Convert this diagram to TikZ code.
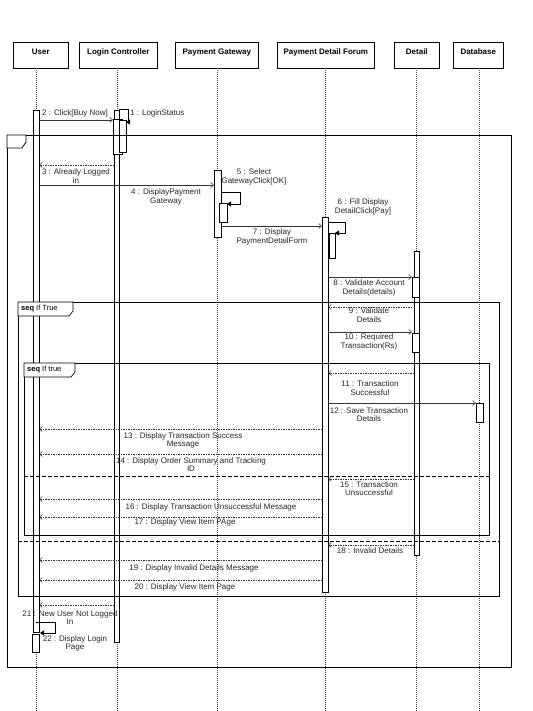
\documentclass[tikz,border=0pt]{standalone}
\usepackage{fontspec}
\setmainfont{Liberation Sans}
\usetikzlibrary{arrows.meta}
\begin{document}
\begin{tikzpicture}[x=1pt,y=-1pt,
  hdr/.style={draw=black, line width=0.6pt, fill=white, anchor=north west, minimum height=26pt,
     inner sep=0pt, text height=6pt, text depth=7pt, font=\bfseries\fontsize{8}{9}\selectfont},
  life/.style={draw=black!75, line width=0.5pt, dash pattern=on 1pt off 1pt},
  actbar/.style={draw=black, line width=0.6pt, fill=white},
  call/.style={draw=black!80, line width=0.5pt, -{Straight Barb[length=3pt,width=5pt]}},
  ret/.style={draw=black!80, line width=0.5pt, dash pattern=on 1.5pt off 1pt, -{Straight Barb[length=3pt,width=5pt]}},
  selfmsg/.style={draw=black, line width=0.5pt, -{Triangle[length=4pt,width=5pt]}},
  lbl/.style={font=\fontsize{8}{8.3}\selectfont, align=center, inner sep=0pt, text=black!85},
  frm/.style={draw=black, line width=0.7pt},
  tagbox/.style={draw=black, line width=0.7pt, fill=white},
  sepline/.style={draw=black, line width=0.6pt, dash pattern=on 4pt off 2pt},
  tagtext/.style={font=\fontsize{7.5}{8}\selectfont, anchor=west, inner sep=0pt}
]
\useasboundingbox[fill=white] (0,0) rectangle (532,711);

% ---- lifeline heads
\node[hdr, minimum width=55pt] (hUser) at (13,42) {User};
\node[hdr, minimum width=78pt] (hLC) at (79,42) {Login Controller};
\node[hdr, minimum width=83pt] (hPG) at (175,42) {Payment Gateway};
\node[hdr, minimum width=97pt] (hPDF) at (277,42) {Payment Detail Forum};
\node[hdr, minimum width=45pt] (hDet) at (394,42) {Detail};
\node[hdr, minimum width=50pt] (hDB) at (453,42) {Database};

% ---- lifelines
\coordinate (uT) at (36,68);  \coordinate (uB) at (36,711);
\coordinate (cT) at (117,68); \coordinate (cB) at (117,711);
\coordinate (gT) at (217,68); \coordinate (gB) at (217,711);
\coordinate (pT) at (325,68); \coordinate (pB) at (325,711);
\coordinate (dT) at (416,68); \coordinate (dB) at (416,711);
\coordinate (bT) at (479,68); \coordinate (bB) at (479,711);
\foreach \a/\b in {uT/uB,cT/cB,gT/gB,pT/pB,dT/dB,bT/bB} \draw[life] (\a) -- (\b);

% ---- activation bars
\draw[actbar] (33,110) rectangle (39,632);
\draw[actbar] (32,634) rectangle (39,652);
\draw[actbar] (114,110) rectangle (119,642);
\draw[actbar] (113,119) rectangle (122,154);
\draw[actbar] (119,120) rectangle (126,152);
\draw[actbar] (214,170) rectangle (221,237);
\draw[actbar] (219,203) rectangle (227,222);
\draw[actbar] (322,217) rectangle (328,592);
\draw[actbar] (329,233) rectangle (335,258);
\draw[actbar] (414,251) rectangle (419,555);
\draw[actbar] (412,277) rectangle (419,297);
\draw[actbar] (412,333) rectangle (419,352);
\draw[actbar] (476,403) rectangle (483,422);

% ---- combined fragments
\draw[frm] (7,135) rectangle (511,667);
\draw[tagbox] (7,135) -- (7,148) -- (22,148) -- (26,142) -- (26,135) -- cycle;
\draw[frm] (18,302) rectangle (499,596);
\draw[tagbox] (18,302) -- (18,316) -- (69,316) -- (73,311) -- (73,302) -- cycle;
\node[tagtext] (tag1) at (21,309) {\textbf{seq} If True};
\draw[sepline] (18,541) -- (499,541);
\draw[frm] (24,363) rectangle (489,535);
\draw[tagbox] (24,363) -- (24,377) -- (71,377) -- (75,372) -- (75,363) -- cycle;
\node[tagtext] (tag2) at (27,370) {\textbf{seq} If true};
\draw[sepline] (24,476) -- (489,476);

% ---- messages
% 1 self LoginStatus
\coordinate (m1a) at (119,109); \coordinate (m1b) at (128,109);
\coordinate (m1c) at (128,122); \coordinate (m1d) at (126,122);
\draw[selfmsg] (m1a) -- (m1b) -- (m1c) -- (m1d);
\node[lbl, anchor=west] (l1) at (130,113) {1 : LoginStatus};
% 2
\coordinate (m2a) at (39,120); \coordinate (m2b) at (113,120);
\draw[call] (m2a) -- (m2b);
\node[lbl] (l2) at (75,113) {2 : Click[Buy Now]};
% 3
\coordinate (m3a) at (114,165); \coordinate (m3b) at (39,165);
\draw[ret] (m3a) -- (m3b);
\node[lbl, anchor=north] (l3) at (76,169) {3 : Already Logged\\in};
% 4
\coordinate (m4a) at (39,185); \coordinate (m4b) at (214,185);
\draw[call] (m4a) -- (m4b);
\node[lbl, anchor=north] (l4) at (166,189) {4 : DisplayPayment\\Gateway};
% 5 self
\coordinate (m5a) at (221,192); \coordinate (m5b) at (240,192);
\coordinate (m5c) at (240,204); \coordinate (m5d) at (227,204);
\draw[selfmsg] (m5a) -- (m5b) -- (m5c) -- (m5d);
\node[lbl, anchor=north] (l5) at (254,169) {5 : Select\\GatewayClick[OK]};
% 7
\coordinate (m7a) at (221,226); \coordinate (m7b) at (322,226);
\draw[call] (m7a) -- (m7b);
\node[lbl, anchor=north] (l7) at (272,229) {7 : Display\\PaymentDetailForm};
% 6 self
\coordinate (m6a) at (328,222); \coordinate (m6b) at (345,222);
\coordinate (m6c) at (345,233); \coordinate (m6d) at (335,233);
\draw[selfmsg] (m6a) -- (m6b) -- (m6c) -- (m6d);
\node[lbl, anchor=north] (l6) at (363,199) {6 : Fill Display\\DetailClick[Pay]};
% 8
\coordinate (m8a) at (328,277); \coordinate (m8b) at (412,277);
\draw[call] (m8a) -- (m8b);
\node[lbl, anchor=north] (l8) at (369,280) {8 : Validate Account\\Details(details)};
% 9
\coordinate (m9a) at (412,307); \coordinate (m9b) at (328,307);
\draw[ret] (m9a) -- (m9b);
\node[lbl, anchor=north] (l9) at (369,308) {9 : Validate\\Details};
% 10
\coordinate (m10a) at (328,332); \coordinate (m10b) at (412,332);
\draw[call] (m10a) -- (m10b);
\node[lbl, anchor=north] (l10) at (369,334) {10 : Required\\Transaction(Rs)};
% 11
\coordinate (m11a) at (414,373); \coordinate (m11b) at (328,373);
\draw[ret] (m11a) -- (m11b);
\node[lbl, anchor=north] (l11) at (370,381) {11 : Transaction\\Successful};
% 12
\coordinate (m12a) at (328,403); \coordinate (m12b) at (476,403);
\draw[call] (m12a) -- (m12b);
\node[lbl, anchor=north] (l12) at (369,407) {12 : Save Transaction\\Details};
% 13
\coordinate (m13a) at (322,429); \coordinate (m13b) at (39,429);
\draw[ret] (m13a) -- (m13b);
\node[lbl, anchor=north] (l13) at (183,432) {13 : Display Transaction Success\\Message};
% 14
\coordinate (m14a) at (322,454); \coordinate (m14b) at (39,454);
\draw[ret] (m14a) -- (m14b);
\node[lbl, anchor=north] (l14) at (191,457) {14 : Display Order Summary and Tracking\\ID};
% 15
\coordinate (m15a) at (414,479); \coordinate (m15b) at (328,479);
\draw[ret] (m15a) -- (m15b);
\node[lbl, anchor=north] (l15) at (369,481) {15 : Transaction\\Unsuccessful};
% 16
\coordinate (m16a) at (322,499); \coordinate (m16b) at (39,499);
\draw[ret] (m16a) -- (m16b);
\node[lbl] (l16) at (211,507) {16 : Display Transaction Unsuccessful Message};
% 17
\coordinate (m17a) at (322,517); \coordinate (m17b) at (39,517);
\draw[ret] (m17a) -- (m17b);
\node[lbl] (l17) at (185,522) {17 : Display View Item PAge};
% 18
\coordinate (m18a) at (414,545); \coordinate (m18b) at (328,545);
\draw[ret] (m18a) -- (m18b);
\node[lbl] (l18) at (370,551) {18 : Invalid Details};
% 19
\coordinate (m19a) at (322,560); \coordinate (m19b) at (39,560);
\draw[ret] (m19a) -- (m19b);
\node[lbl] (l19) at (194,568) {19 : Display Invalid Details Message};
% 20
\coordinate (m20a) at (322,580); \coordinate (m20b) at (39,580);
\draw[ret] (m20a) -- (m20b);
\node[lbl] (l20) at (185,587) {20 : Display View Item Page};
% 21
\coordinate (m21a) at (114,605); \coordinate (m21b) at (39,605);
\draw[ret] (m21a) -- (m21b);
\node[lbl, anchor=north] (l21) at (70,610) {21 : New User Not Logged\\In};
% 22 self
\coordinate (m22a) at (36,622); \coordinate (m22b) at (55,622);
\coordinate (m22c) at (55,633); \coordinate (m22d) at (40,633);
\draw[selfmsg] (m22a) -- (m22b) -- (m22c) -- (m22d);
\node[lbl, anchor=north] (l22) at (75,635) {22 : Display Login\\Page};
\end{tikzpicture}
\end{document}
